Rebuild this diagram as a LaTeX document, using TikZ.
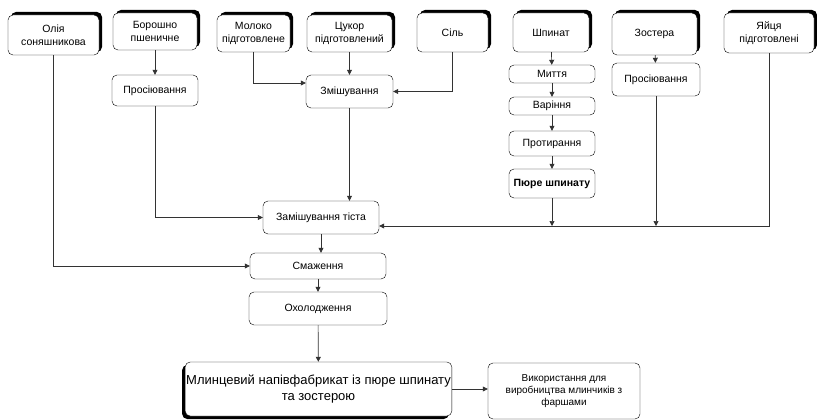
\documentclass[tikz,border=0pt]{standalone}
\usepackage{fontspec}
\setmainfont{Liberation Sans}
\usepackage{tikz}
\usetikzlibrary{positioning,shadows,arrows.meta}

\tikzset{
  stepbox/.style={draw=black, fill=white, rounded corners=5pt, thin, align=center, inner sep=1pt, font=\fontsize{10.5}{12.5}\selectfont},
  rawbox/.style={stepbox, drop shadow={shadow xshift=3pt, shadow yshift=3pt, fill=black, opacity=1}},
  flow/.style={black!80, line width=0.7pt, -{Triangle[length=5pt,width=5pt]}},
  link/.style={black!80, line width=0.7pt}
}

\begin{document}
\begin{tikzpicture}[x=1pt, y=-1pt]
\useasboundingbox (0,0) rectangle (817,420);

\node[rawbox, minimum width=91pt, minimum height=40pt] (oil) at (53.5,35) {Олія\\соняшникова};
\node[rawbox, minimum width=84pt, minimum height=37pt] (flour) at (155,31.5) {Борошно\\пшеничне};
\node[rawbox, minimum width=73pt, minimum height=37pt] (milk) at (253.5,33.5) {Молоко\\підготовлене};
\node[rawbox, minimum width=85pt, minimum height=37pt] (sugar) at (349.5,33.5) {Цукор\\підготовлений};
\node[rawbox, minimum width=71pt, minimum height=39pt] (salt) at (452.5,32.5) {Сіль};
\node[rawbox, minimum width=76pt, minimum height=39pt] (spinach) at (551,32.5) {Шпинат};
\node[rawbox, minimum width=85pt, minimum height=42pt] (zostera) at (654.5,34) {Зостера};
\node[rawbox, minimum width=90pt, minimum height=40pt] (eggs) at (769,33) {Яйця\\підготовлені};

\node[stepbox, minimum width=86pt, minimum height=31pt] (sift1) at (155,90.5) {Просіювання};
\node[stepbox, minimum width=87pt, minimum height=33pt] (mix) at (349.5,91.5) {Змішування};
\node[stepbox, minimum width=88pt, minimum height=33pt] (sift2) at (656,79.5) {Просіювання};

\node[stepbox, minimum width=86pt, minimum height=18pt] (wash) at (552,74) {Миття};
\node[stepbox, minimum width=86pt, minimum height=18pt] (boil) at (552,106) {Варіння};
\node[stepbox, minimum width=86pt, minimum height=25pt] (rub) at (552,143.5) {Протирання};
\node[stepbox, minimum width=86pt, minimum height=29pt, font=\fontsize{10.5}{12.5}\selectfont\bfseries] (puree) at (552,183.5) {Пюре шпинату};

\node[stepbox, minimum width=116pt, minimum height=33pt] (dough) at (321,217.5) {Замішування тіста};
\node[stepbox, minimum width=136pt, minimum height=26pt] (fry) at (318,266) {Смаження};
\node[stepbox, minimum width=138pt, minimum height=33pt] (cool) at (318,308.5) {Охолодження};
\node[stepbox, minimum width=261pt, minimum height=54pt, font=\fontsize{13}{16}\selectfont,
  drop shadow={shadow xshift=-3pt, shadow yshift=-3pt, fill=black, opacity=1}] (product) at (318.5,389) {Млинцевий напівфабрикат із пюре шпинату\\та зостерою};
\node[stepbox, minimum width=152pt, minimum height=56pt, font=\fontsize{10}{12}\selectfont] (usage) at (564,391) {Використання для\\виробництва млинчиків з\\фаршами};

\coordinate (bus) at ([yshift=-8.5pt]dough.east);

\draw[flow] (oil.south) |- (fry.west);
\draw[flow] (flour) -- (sift1);
\draw[flow] (sift1.south) |- (dough.west);
\draw[flow] (milk.south) |- ([yshift=8.5pt]mix.west);
\draw[flow] (sugar) -- (mix);
\draw[flow] (salt.south) |- (mix.east);
\draw[flow] (mix.south) -- (mix.south |- dough.north);

\draw[flow] (spinach) -- (wash);
\draw[flow] (wash) -- (boil);
\draw[flow] (boil) -- (rub);
\draw[flow] (rub) -- (puree);
\draw[flow] (zostera) -- (sift2);

\draw[flow] (eggs.south) |- (bus);
\draw[flow] (puree.south) -- (puree.south |- bus);
\draw[flow] (sift2.south) -- (sift2.south |- bus);

\draw[flow] (dough) -- (dough.south |- fry.north);
\draw[flow] (fry) -- (cool);
\draw[flow] (cool) -- (product);
\draw[flow] (product.east) -- (product.east -| usage.west);
\end{tikzpicture}
\end{document}
